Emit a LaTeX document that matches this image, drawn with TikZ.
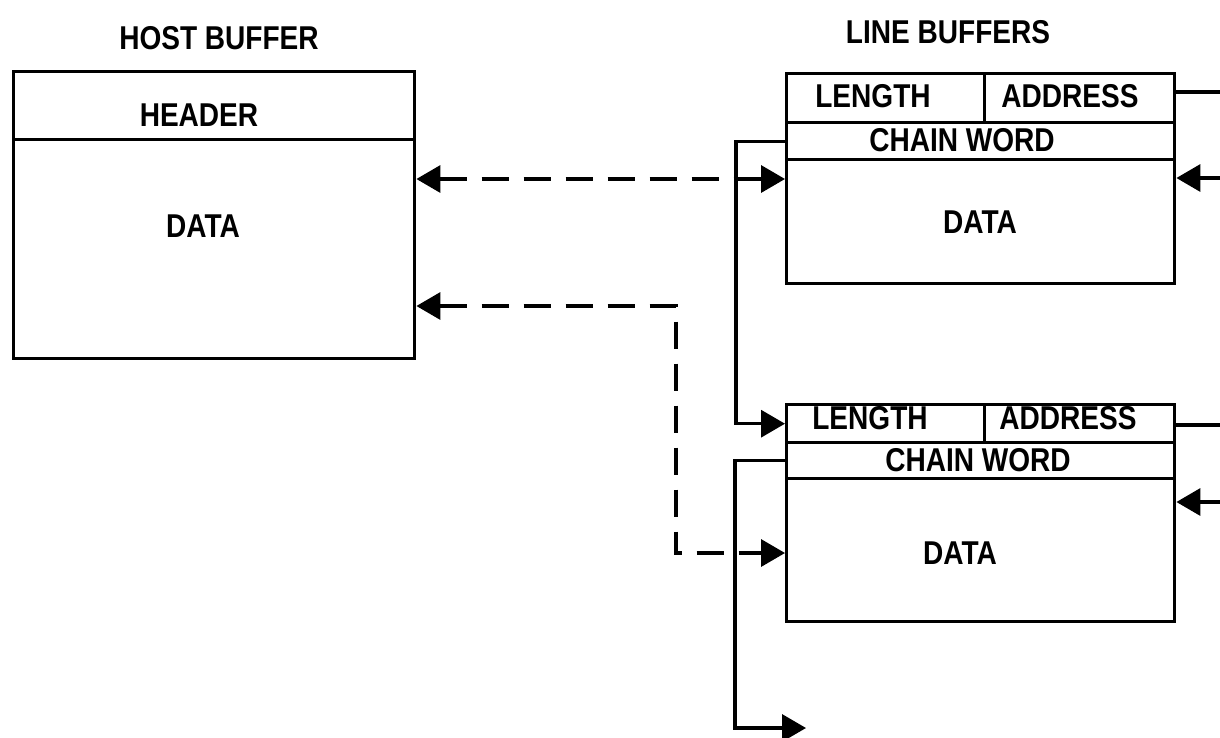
\documentclass[tikz,border=0pt]{standalone}
\usepackage{fontspec}
\setmainfont{Liberation Sans}[FakeStretch=0.85]
\usetikzlibrary{arrows.meta}
\begin{document}
\begin{tikzpicture}[x=1pt,y=-1pt,
  line width=3.4pt,
  cell/.style={draw,rectangle,inner sep=0pt,anchor=north west},
  lbl/.style={inner sep=0pt,font=\fontsize{33}{36}\selectfont\bfseries},
  tip/.style={-{Triangle[length=24pt,width=27pt]}},
  dtip/.style={{Triangle[length=24pt,width=27pt]}-{Triangle[length=24pt,width=27pt]}},
  dashline/.style={dash pattern=on 27pt off 15pt}]
\useasboundingbox (0,0) rectangle (1220,737);
% host buffer
\node[cell,minimum width=401pt,minimum height=287pt] (host) at (12,70) {};
\node[cell,minimum width=401pt,minimum height=68pt] (hdr) at (12,70) {};
\node[lbl] (thost) at (219,38) {HOST BUFFER};
\node[lbl] (thdr) at (199,115) {HEADER};
\node[lbl] (tdat) at (203,226) {DATA};
% line buffer 1
\node[lbl] (tlines) at (948,32) {LINE BUFFERS};
\node[cell,minimum width=388pt,minimum height=210pt] (lb1) at (785,72) {};
\node[cell,minimum width=198pt,minimum height=49pt] (len1) at (785,72) {};
\node[cell,minimum width=190pt,minimum height=49pt] (addr1) at (983,72) {};
\node[cell,minimum width=388pt,minimum height=37pt] (chain1) at (785,121) {};
\node[cell,minimum width=388pt,minimum height=124pt] (data1) at (785,158) {};
\node[lbl] at (873,96) {LENGTH};
\node[lbl] at (1070,96) {ADDRESS};
\node[lbl] at (962,140) {CHAIN WORD};
\node[lbl] at (980,222) {DATA};
% line buffer 2
\node[cell,minimum width=388pt,minimum height=217pt] (lb2) at (785,403) {};
\node[cell,minimum width=198pt,minimum height=38pt] (len2) at (785,403) {};
\node[cell,minimum width=190pt,minimum height=38pt] (addr2) at (983,403) {};
\node[cell,minimum width=388pt,minimum height=36pt] (chain2) at (785,441) {};
\node[cell,minimum width=388pt,minimum height=143pt] (data2) at (785,477) {};
\node[lbl] at (870,418) {LENGTH};
\node[lbl] at (1068,418) {ADDRESS};
\node[lbl] at (978,460) {CHAIN WORD};
\node[lbl] at (960,553) {DATA};
% free ends and levels
\coordinate (r1) at (1220,92);
\coordinate (r2) at (1220,178);
\coordinate (r3) at (1220,425);
\coordinate (r4) at (1220,502);
\coordinate (nextend) at (806,728);
\coordinate (y1) at (0,179);
\coordinate (y2) at (0,306);
\coordinate (y3) at (0,553);
\coordinate (bend) at (676,306);
% right side connectors
\draw (r1) -- (r1 -| lb1.east);
\draw[tip] (r2) -- (r2 -| lb1.east);
\draw (r3) -- (r3 -| lb2.east);
\draw[tip] (r4) -- (r4 -| lb2.east);
% chain connectors
\draw[tip] (chain1.west) -- ++(-49,0) |- (len2.west);
\draw[tip] (chain2.west) -- ++(-50,0) |- (nextend);
% dashed data transfers
\draw[dtip,dashline] (host.east |- y1) -- (lb1.west |- y1);
\draw[dtip,dashline] (host.east |- y2) -- (bend) |- (lb2.west |- y3);
\end{tikzpicture}
\end{document}
